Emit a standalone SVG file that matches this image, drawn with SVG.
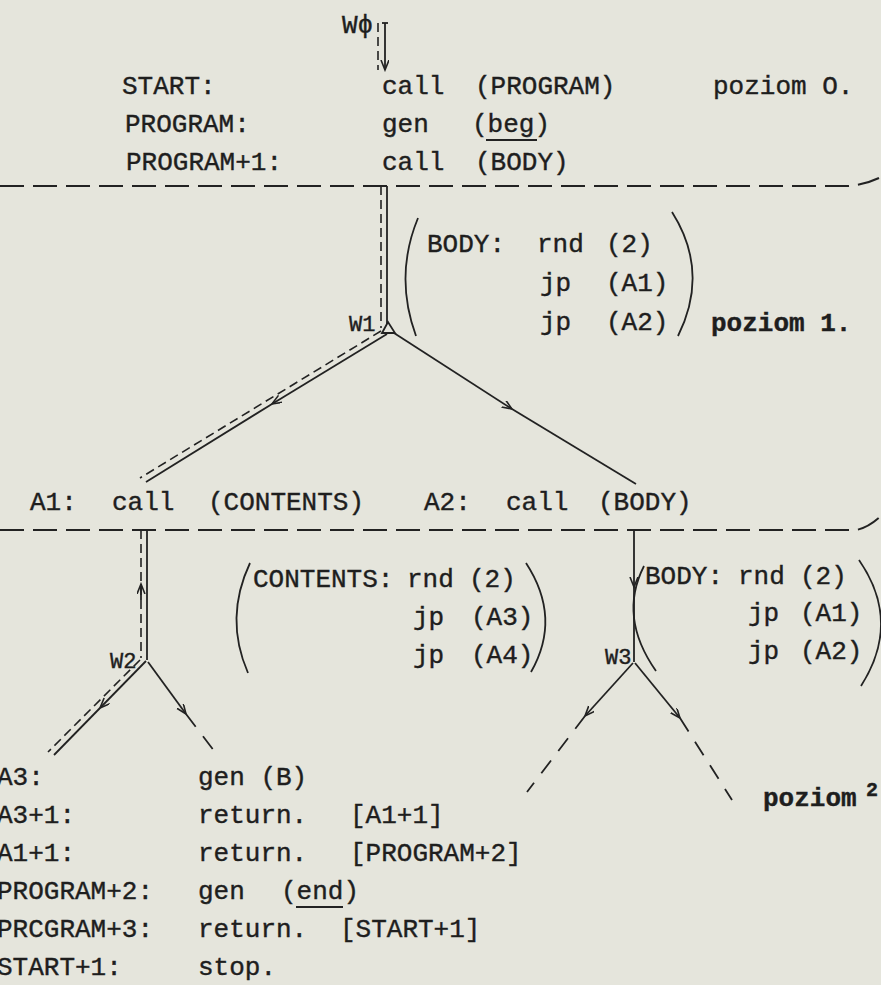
<svg xmlns="http://www.w3.org/2000/svg" width="881" height="985" viewBox="0 0 881 985">
<style>
  text { font-family: "Liberation Mono", "DejaVu Sans Mono", monospace; font-size: 26px; fill: #1e1e1e; stroke: #1e1e1e; stroke-width: 0.4; }
  .b { font-weight: bold; }
  .lbl { font-size: 22px; }
  .ln { stroke: #222; stroke-width: 1.8; fill: none; }
  .dl { stroke: #222; stroke-width: 1.6; fill: none; stroke-dasharray: 9 5; }
  .hd { stroke: #222; stroke-width: 2; fill: none; stroke-dasharray: 24 9; }
  .ld { stroke: #222; stroke-width: 1.8; fill: none; stroke-dasharray: 16 12; }
  .par { stroke: #222; stroke-width: 1.8; fill: none; }
</style>
<defs>
  <marker id="arr" markerWidth="12" markerHeight="10" refX="10" refY="4" orient="auto" markerUnits="userSpaceOnUse">
    <path d="M0,0 L10,4 L0,8" fill="none" stroke="#222" stroke-width="1.6"/>
  </marker>
</defs>
<rect width="881" height="985" fill="#e5e5dc"/>

<g id="connectors">
  <!-- W0 -> START -->
  <line class="dl" x1="378" y1="23" x2="378" y2="70"/>
  <line class="ln" x1="385" y1="23" x2="385" y2="70" marker-end="url(#arr)"/>
  <line class="ln" x1="382" y1="23" x2="388" y2="23"/>
  <!-- level separators -->
  <path class="hd" d="M0,186 L848,186 Q864,185 879,178"/>
  <path class="hd" d="M0,530 L856,530 Q868,528 881,516"/>
  <!-- PROGRAM+1 -> W1 -->
  <line class="dl" x1="381" y1="186" x2="381" y2="328"/>
  <line class="ln" x1="387" y1="186" x2="387" y2="324"/>
  <!-- W1 -> A1 (double) -->
  <line class="ln" x1="387" y1="334" x2="272" y2="404" marker-end="url(#arr)"/>
  <line class="ln" x1="272" y1="404" x2="146" y2="482"/>
  <line class="dl" x1="381" y1="331" x2="140" y2="478"/>
  <!-- W1 -> A2 -->
  <line class="ln" x1="394" y1="333" x2="512" y2="409" marker-end="url(#arr)"/>
  <line class="ln" x1="512" y1="409" x2="636" y2="484"/>
  <!-- A1 -> W2 -->
  <line class="dl" x1="141" y1="530" x2="141" y2="658"/>
  <line class="ln" x1="141" y1="600" x2="141" y2="584" marker-end="url(#arr)"/>
  <line class="ln" x1="147" y1="530" x2="147" y2="660"/>
  <!-- W2 -> A3 (double) -->
  <line class="ln" x1="146" y1="661" x2="100" y2="708" marker-end="url(#arr)"/>
  <line class="ln" x1="100" y1="708" x2="54" y2="755"/>
  <line class="dl" x1="140" y1="660" x2="48" y2="752"/>
  <!-- W2 -> B -->
  <line class="ln" x1="148" y1="662" x2="186" y2="714" marker-end="url(#arr)"/>
  <line class="ld" x1="186" y1="714" x2="218" y2="756"/>
  <!-- A2 -> W3 -->
  <line class="ln" x1="634" y1="530" x2="634" y2="587" marker-end="url(#arr)"/>
  <line class="ln" x1="634" y1="587" x2="634" y2="662"/>
  <!-- W3 branches -->
  <line class="ln" x1="633" y1="663" x2="585" y2="716" marker-end="url(#arr)"/>
  <line class="ld" x1="585" y1="716" x2="527" y2="792"/>
  <line class="ln" x1="635" y1="663" x2="680" y2="718" marker-end="url(#arr)"/>
  <line class="ld" x1="680" y1="718" x2="732" y2="800"/>
</g>

<g id="level0">
  <text x="342" y="33">W&#981;</text>
  <text x="122" y="94">START:</text>
  <text x="382" y="94">call</text>
  <text x="475" y="94">(PROGRAM)</text>
  <text x="713" y="94">poziom O.</text>
  <text x="125" y="132">PROGRAM:</text>
  <text x="382" y="132">gen</text>
  <text x="472" y="132">(beg)</text>
  <line class="ln" x1="486" y1="140" x2="537" y2="140"/>
  <text x="126" y="170">PROGRAM+1:</text>
  <text x="382" y="170">call</text>
  <text x="475" y="170">(BODY)</text>
</g>

<g id="node-w1">
  <path class="ln" d="M382,333 L388,322 L395,333 Z"/>
  <text class="lbl" x="349" y="331">W1</text>
  <path class="par" d="M418,218 Q394,276 416,336"/>
  <text x="427" y="252">BODY:</text>
  <text x="537" y="252">rnd</text>
  <text x="606" y="252">(2)</text>
  <text x="540" y="291">jp</text>
  <text x="606" y="291">(A1)</text>
  <text x="540" y="330">jp</text>
  <text x="606" y="330">(A2)</text>
  <path class="par" d="M672,212 Q710,272 678,336"/>
  <text class="b" x="711" y="331">poziom 1.</text>
</g>

<g id="level1">
  <text x="30" y="510">A1:</text>
  <text x="112" y="510">call</text>
  <text x="208" y="510">(CONTENTS)</text>
  <text x="424" y="510">A2:</text>
  <text x="506" y="510">call</text>
  <text x="598" y="510">(BODY)</text>
</g>

<g id="node-w2">
  <text class="lbl" x="110" y="668">W2</text>
  <path class="par" d="M250,563 Q224,618 248,673"/>
  <text x="253" y="587">CONTENTS:</text>
  <text x="407" y="587">rnd</text>
  <text x="469" y="587">(2)</text>
  <text x="413" y="625">jp</text>
  <text x="471" y="625">(A3)</text>
  <text x="413" y="663">jp</text>
  <text x="471" y="663">(A4)</text>
  <path class="par" d="M526,563 Q562,618 531,672"/>
</g>

<g id="node-w3">
  <text class="lbl" x="605" y="664">W3</text>
  <path class="par" d="M644,566 Q618,617 656,671"/>
  <text x="645" y="584">BODY:</text>
  <text x="738" y="584">rnd</text>
  <text x="800" y="584">(2)</text>
  <text x="748" y="621">jp</text>
  <text x="800" y="621">(A1)</text>
  <text x="748" y="659">jp</text>
  <text x="800" y="659">(A2)</text>
  <path class="par" d="M859,560 Q902,622 861,686"/>
  <text class="b" x="763" y="806">poziom</text>
  <text class="b" x="866" y="796" style="font-size:20px">2</text>
</g>

<g id="trace">
  <text x="-3" y="785">A3:</text>
  <text x="198" y="785">gen (B)</text>
  <text x="-3" y="823">A3+1:</text>
  <text x="198" y="823">return.</text>
  <text x="350" y="823">[A1+1]</text>
  <text x="-3" y="861">A1+1:</text>
  <text x="198" y="861">return.</text>
  <text x="350" y="861">[PROGRAM+2]</text>
  <text x="-3" y="899">PROGRAM+2:</text>
  <text x="198" y="899">gen</text>
  <text x="281" y="899">(end)</text>
  <line class="ln" x1="296" y1="907" x2="343" y2="907"/>
  <text x="-3" y="937">PRCGRAM+3:</text>
  <text x="198" y="937">return.</text>
  <text x="340" y="937">[START+1]</text>
  <text x="-3" y="975">START+1:</text>
  <text x="198" y="975">stop.</text>
</g>
</svg>
